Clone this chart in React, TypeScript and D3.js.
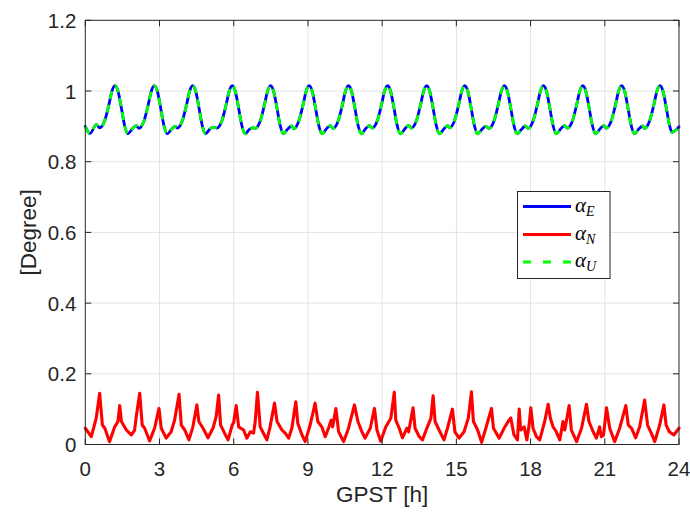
import React from "react";
import * as d3 from "d3";

// ---- data ----
const xTicks = [0, 3, 6, 9, 12, 15, 18, 21, 24];
const yTicks = [0, 0.2, 0.4, 0.6, 0.8, 1, 1.2];
const yTickLabels = ["0", "0.2", "0.4", "0.6", "0.8", "1", "1.2"];

// alpha_E : [GPST hour, degree]
const alphaE: [number, number][] = [
  [0, 0.9], [0.19, 0.88], [0.45, 0.905], [0.58, 0.896], [0.78, 0.915], [0.95, 0.96], [1.08, 1.0], [1.2, 1.015], [1.32, 1.0], [1.45, 0.955], [1.58, 0.905], [1.72, 0.879], [1.9, 0.893], [2.05, 0.902],
  [2.17, 0.894], [2.37, 0.915], [2.54, 0.96], [2.67, 1.0], [2.79, 1.015], [2.91, 1.0], [3.04, 0.955], [3.17, 0.905], [3.31, 0.879], [3.49, 0.892], [3.64, 0.9],
  [3.72, 0.895], [3.92, 0.915], [4.09, 0.96], [4.22, 1.0], [4.34, 1.015], [4.46, 1.0], [4.59, 0.955], [4.72, 0.905], [4.86, 0.879], [5.04, 0.893], [5.19, 0.898],
  [5.32, 0.895], [5.52, 0.915], [5.69, 0.96], [5.82, 1.0], [5.94, 1.015], [6.06, 1.0], [6.19, 0.955], [6.32, 0.905], [6.46, 0.879], [6.64, 0.892], [6.79, 0.896],
  [6.87, 0.894], [7.07, 0.915], [7.24, 0.96], [7.37, 1.0], [7.49, 1.015], [7.61, 1.0], [7.74, 0.955], [7.87, 0.905], [8.01, 0.879], [8.19, 0.893], [8.34, 0.901],
  [8.43, 0.893], [8.63, 0.915], [8.8, 0.96], [8.93, 1.0], [9.05, 1.015], [9.17, 1.0], [9.3, 0.955], [9.43, 0.905], [9.57, 0.879], [9.75, 0.893], [9.9, 0.902],
  [10.02, 0.894], [10.22, 0.915], [10.39, 0.96], [10.52, 1.0], [10.64, 1.015], [10.76, 1.0], [10.89, 0.955], [11.02, 0.905], [11.16, 0.879], [11.34, 0.894], [11.49, 0.902],
  [11.6, 0.895], [11.8, 0.915], [11.97, 0.96], [12.1, 1.0], [12.22, 1.015], [12.34, 1.0], [12.47, 0.955], [12.6, 0.905], [12.74, 0.879], [12.92, 0.893], [13.07, 0.903],
  [13.18, 0.895], [13.38, 0.915], [13.55, 0.96], [13.68, 1.0], [13.8, 1.015], [13.92, 1.0], [14.05, 0.955], [14.18, 0.905], [14.32, 0.879], [14.5, 0.893], [14.65, 0.902],
  [14.72, 0.896], [14.92, 0.915], [15.09, 0.96], [15.22, 1.0], [15.34, 1.015], [15.46, 1.0], [15.59, 0.955], [15.72, 0.905], [15.86, 0.879], [16.04, 0.892], [16.19, 0.9],
  [16.32, 0.894], [16.52, 0.915], [16.69, 0.96], [16.82, 1.0], [16.94, 1.015], [17.06, 1.0], [17.19, 0.955], [17.32, 0.905], [17.46, 0.879], [17.64, 0.892], [17.79, 0.901],
  [17.9, 0.894], [18.1, 0.915], [18.27, 0.96], [18.4, 1.0], [18.52, 1.015], [18.64, 1.0], [18.77, 0.955], [18.9, 0.905], [19.04, 0.879], [19.22, 0.893], [19.37, 0.902],
  [19.49, 0.895], [19.69, 0.915], [19.86, 0.96], [19.99, 1.0], [20.11, 1.015], [20.23, 1.0], [20.36, 0.955], [20.49, 0.905], [20.63, 0.879], [20.81, 0.893], [20.96, 0.902],
  [21.06, 0.895], [21.26, 0.915], [21.43, 0.96], [21.56, 1.0], [21.68, 1.015], [21.8, 1.0], [21.93, 0.955], [22.06, 0.905], [22.2, 0.879], [22.38, 0.893], [22.53, 0.901],
  [22.61, 0.894], [22.81, 0.915], [22.98, 0.96], [23.11, 1.0], [23.23, 1.015], [23.35, 1.0], [23.48, 0.955], [23.61, 0.905], [23.72, 0.883], [23.88, 0.89], [24.0, 0.899],
];

// alpha_U follows alpha_E
const alphaU: [number, number][] = alphaE.map((d) => [d[0], d[1]]);

// alpha_N : [GPST hour, degree]
const alphaN: [number, number][] = [
  [0, 0.046], [0.24, 0.022], [0.44, 0.074], [0.58, 0.145], [0.69, 0.055], [0.79, 0.046], [0.98, 0.008],
  [1.19, 0.05], [1.32, 0.065], [1.39, 0.11], [1.46, 0.065], [1.66, 0.041], [1.86, 0.027], [1.99, 0.04],
  [2.06, 0.079], [2.2, 0.145], [2.3, 0.055], [2.4, 0.046], [2.6, 0.01], [2.8, 0.046], [2.98, 0.102],
  [3.07, 0.046], [3.27, 0.018], [3.47, 0.036], [3.61, 0.069], [3.79, 0.142], [3.88, 0.055], [4.02, 0.041],
  [4.19, 0.013], [4.35, 0.05], [4.51, 0.112], [4.59, 0.065], [4.76, 0.046], [4.96, 0.019], [5.16, 0.046],
  [5.29, 0.079], [5.39, 0.14], [5.47, 0.055], [5.63, 0.032], [5.77, 0.013], [5.94, 0.055], [6.0, 0.063],
  [6.1, 0.11], [6.2, 0.05], [6.4, 0.041], [6.53, 0.018], [6.67, 0.036], [6.8, 0.032], [6.87, 0.065],
  [6.96, 0.148], [7.07, 0.05], [7.2, 0.032], [7.34, 0.013], [7.47, 0.05], [7.65, 0.117], [7.75, 0.065],
  [7.95, 0.041], [8.08, 0.032], [8.22, 0.018], [8.35, 0.046], [8.51, 0.121], [8.59, 0.06], [8.76, 0.027],
  [8.89, 0.008], [9.09, 0.055], [9.29, 0.117], [9.4, 0.065], [9.56, 0.05], [9.7, 0.022], [9.83, 0.046],
  [9.94, 0.069], [10.0, 0.05], [10.13, 0.102], [10.24, 0.036], [10.44, 0.008], [10.64, 0.046], [10.88, 0.112],
  [11.02, 0.065], [11.18, 0.036], [11.31, 0.018], [11.52, 0.046], [11.69, 0.102], [11.79, 0.041], [11.94, 0.009],
  [12.15, 0.05], [12.35, 0.074], [12.49, 0.148], [12.55, 0.069], [12.69, 0.046], [12.82, 0.019], [13.0, 0.046],
  [13.07, 0.036], [13.25, 0.104], [13.33, 0.046], [13.5, 0.022], [13.63, 0.013], [13.83, 0.05], [13.97, 0.074],
  [14.06, 0.138], [14.14, 0.065], [14.3, 0.041], [14.5, 0.013], [14.64, 0.046], [14.84, 0.1], [14.94, 0.036],
  [15.11, 0.018], [15.31, 0.036], [15.48, 0.074], [15.61, 0.149], [15.69, 0.065], [15.86, 0.041], [16.02, 0.006],
  [16.19, 0.046], [16.42, 0.102], [16.5, 0.046], [16.73, 0.018], [16.93, 0.046], [17.13, 0.069], [17.2, 0.075],
  [17.33, 0.027], [17.47, 0.013], [17.54, 0.1], [17.6, 0.041], [17.74, 0.05], [17.85, 0.013], [17.94, 0.055],
  [18.01, 0.104], [18.1, 0.046], [18.24, 0.022], [18.37, 0.013], [18.57, 0.065], [18.71, 0.114], [18.8, 0.074],
  [18.91, 0.05], [19.04, 0.036], [19.18, 0.013], [19.31, 0.065], [19.38, 0.041], [19.56, 0.11], [19.65, 0.041],
  [19.86, 0.008], [20.06, 0.046], [20.26, 0.114], [20.36, 0.065], [20.53, 0.036], [20.66, 0.018], [20.79, 0.05],
  [20.86, 0.022], [20.95, 0.027], [21.07, 0.104], [21.2, 0.046], [21.4, 0.008], [21.6, 0.046], [21.85, 0.11],
  [21.95, 0.055], [22.08, 0.046], [22.25, 0.019], [22.41, 0.05], [22.61, 0.126], [22.73, 0.055], [22.88, 0.032],
  [23.02, 0.008], [23.22, 0.055], [23.39, 0.112], [23.48, 0.055], [23.61, 0.036], [23.79, 0.027], [24.0, 0.046],
];

const legendLabels = ["E", "N", "U"];
const xLabel = "GPST [h]";
const yLabel = "[Degree]";

// ---- layout ----
const W = 690;
const H = 513;
const left = 85.3;
const right = 679;
const top = 20.3;
const bottom = 444.5;
const textColor = "#262626";
const tickFont = "'Liberation Sans', Arial, Helvetica, sans-serif";

export default function App() {
  const x = d3.scaleLinear().domain([0, 24]).range([left, right]);
  const y = d3.scaleLinear().domain([0, 1.2]).range([bottom, top]);

  const smooth = d3
    .line<[number, number]>()
    .x((d) => x(d[0]))
    .y((d) => y(d[1]))
    .curve(d3.curveMonotoneX);
  const sharp = d3
    .line<[number, number]>()
    .x((d) => x(d[0]))
    .y((d) => y(d[1]));

  const lw = 2.8;
  const legX0 = 517.5;
  const legY0 = 191.5;
  const legW = 92.5;
  const legH = 87;
  const rowYs = [206.5, 234.5, 262];
  const colors = ["#0000ff", "#ff0000", "#00ff00"];

  return (
    <svg
      width={W}
      height={H}
      style={{ position: "absolute", left: 0, top: 0, background: "#fff" }}
    >
      <rect x={0} y={0} width={W} height={H} fill="#fff" />
      {/* grid */}
      <g stroke="#e3e3e3" strokeWidth={1}>
        {xTicks.slice(1, -1).map((t) => (
          <line key={"gx" + t} x1={x(t)} x2={x(t)} y1={top} y2={bottom} />
        ))}
        {yTicks.slice(1, -1).map((t) => (
          <line key={"gy" + t} x1={left} x2={right} y1={y(t)} y2={y(t)} />
        ))}
      </g>

      {/* data */}
      <g fill="none" strokeLinejoin="round" strokeLinecap="round">
        <path d={smooth(alphaE) || ""} stroke="#0000ff" strokeWidth={lw} />
        <path d={sharp(alphaN) || ""} stroke="#ff0000" strokeWidth={3.1} />
        <path
          d={smooth(alphaU) || ""}
          stroke="#00ff00"
          strokeWidth={lw}
          strokeLinecap="butt"
          strokeDasharray="8,6"
        />
      </g>

      {/* box and ticks */}
      <g stroke={textColor} strokeWidth={1} fill="none">
        <rect x={left} y={top} width={right - left} height={bottom - top} />
        {xTicks.map((t) => (
          <g key={"tx" + t}>
            <line x1={x(t)} x2={x(t)} y1={bottom} y2={bottom - 6} />
            <line x1={x(t)} x2={x(t)} y1={top} y2={top + 6} />
          </g>
        ))}
        {yTicks.map((t) => (
          <g key={"ty" + t}>
            <line x1={left} x2={left + 6} y1={y(t)} y2={y(t)} />
            <line x1={right} x2={right - 6} y1={y(t)} y2={y(t)} />
          </g>
        ))}
      </g>

      {/* tick labels */}
      <g fill={textColor} fontFamily={tickFont} fontSize={20.5}>
        {xTicks.map((t) => (
          <text key={"lx" + t} x={x(t)} y={476} textAnchor="middle">
            {String(t)}
          </text>
        ))}
        {yTicks.map((t, i) => (
          <text
            key={"ly" + t}
            x={left - 9}
            y={y(t)}
            textAnchor="end"
            dominantBaseline="central"
          >
            {yTickLabels[i]}
          </text>
        ))}
      </g>

      {/* axis labels */}
      <text
        x={(left + right) / 2}
        y={502}
        textAnchor="middle"
        fill={textColor}
        fontFamily={tickFont}
        fontSize={22.5}
      >
        {xLabel}
      </text>
      <text
        transform={`translate(36,${(top + bottom) / 2}) rotate(-90)`}
        textAnchor="middle"
        fill={textColor}
        fontFamily={tickFont}
        fontSize={22.5}
      >
        {yLabel}
      </text>

      {/* legend */}
      <rect
        x={legX0}
        y={legY0}
        width={legW}
        height={legH}
        fill="#fff"
        stroke={textColor}
        strokeWidth={1}
      />
      {legendLabels.map((lab, i) => (
        <g key={"leg" + lab}>
          <line
            x1={523}
            x2={571}
            y1={rowYs[i]}
            y2={rowYs[i]}
            stroke={colors[i]}
            strokeWidth={lw}
            strokeDasharray={i === 2 ? "8,12" : undefined}
          />
          <text
            x={575}
            y={rowYs[i] + 5}
            fill="#000"
            fontFamily="'Liberation Serif', 'DejaVu Serif', serif"
            fontStyle="italic"
            fontSize={21}
          >
            α
            <tspan fontSize={14} dy={4}>
              {lab}
            </tspan>
          </text>
        </g>
      ))}
    </svg>
  );
}
